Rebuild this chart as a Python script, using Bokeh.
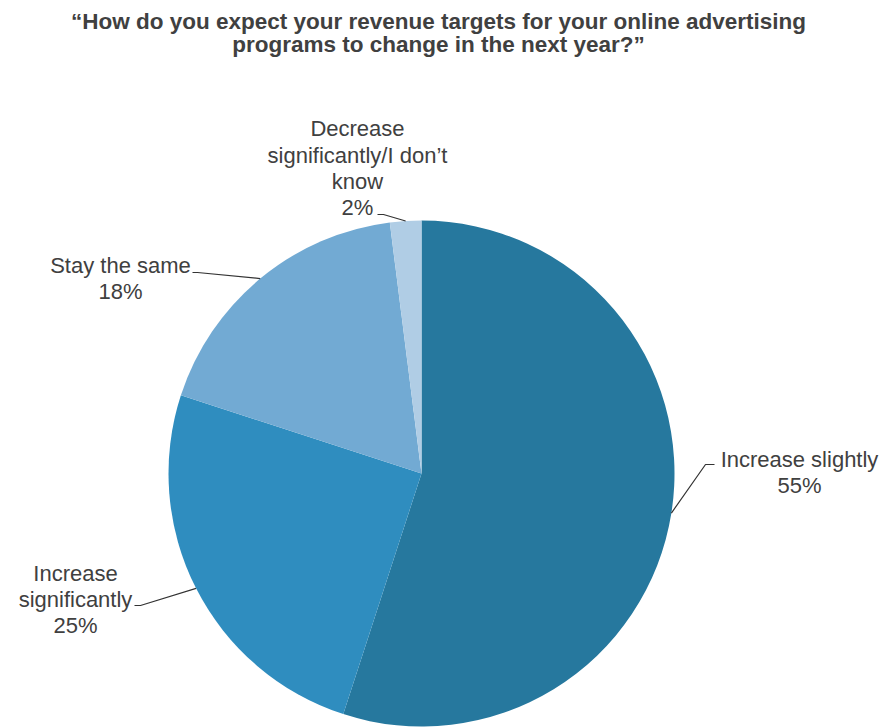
import numpy as np
from bokeh.plotting import figure
from bokeh.models import Range1d, ColumnDataSource
from bokeh.embed import file_html
from bokeh.resources import INLINE
from bokeh.core.properties import value

categories = ["Increase slightly", "Increase significantly", "Stay the same", "Decrease significantly/I don\u2019t know"]
shares = [55, 25, 18, 2]
colors = ["#26789E", "#2F8DBF", "#72AAD3", "#B0CDE5"]
title_lines = ["\u201cHow do you expect your revenue targets for your online advertising",
               "programs to change in the next year?\u201d"]

W, H = 885, 727
p = figure(width=W, height=H, output_backend="svg", toolbar_location=None,
           x_range=Range1d(0, W), y_range=Range1d(0, H), min_border=0)
p.axis.visible = False
p.grid.visible = False
p.outline_line_color = None
p.background_fill_color = "white"

def Y(sy):
    return H - sy

cx, cy, r = 421, Y(473), 253
frac = np.array(shares) / sum(shares)
cum = np.concatenate([[0], np.cumsum(frac)])
start = np.pi / 2 - 2 * np.pi * cum[1:]
end = np.pi / 2 - 2 * np.pi * cum[:-1]
src = ColumnDataSource(dict(start=start, end=end, color=colors))
p.wedge(x=cx, y=cy, radius=r, start_angle="start", end_angle="end",
        fill_color="color", line_color=None, source=src)

# leader lines from slice mid-angles
mid = np.pi / 2 - 2 * np.pi * (cum[:-1] + cum[1:]) / 2
ex = cx + r * np.cos(mid)
ey = cy + r * np.sin(mid)
elbows = [(705, 464, 714, 464), (140, 605, 134, 605), (197, 272, 192, 272), (383, 214, 377, 214)]
for i, (bx, by, tx, ty) in enumerate(elbows):
    p.line([ex[i], bx, tx], [ey[i], Y(by), Y(ty)], line_color="#333333", line_width=1.2)

tc = "#404040"
font = value("Liberation Sans")
# title
for j, t in enumerate(title_lines):
    p.text(x=[438], y=[Y(21 + 23 * j)], text=[t], text_align="center", text_baseline="middle",
           text_font=font, text_font_style="bold", text_font_size="22.5px", text_color=tc)

labels = [
    (799, [459, 485], ["Increase slightly", f"{shares[0]}%"]),
    (75, [573, 599, 625], ["Increase", "significantly", f"{shares[1]}%"]),
    (120, [265, 291], ["Stay the same", f"{shares[2]}%"]),
    (357, [128, 155, 181, 207], ["Decrease", "significantly/I don\u2019t", "know", f"{shares[3]}%"]),
]
for x, ys, lines in labels:
    p.text(x=[x] * len(lines), y=[Y(v) for v in ys], text=lines, text_align="center",
           text_baseline="middle", text_font=font, text_font_size="22px", text_color=tc)

open("out.html", "w").write(file_html(p, INLINE))
